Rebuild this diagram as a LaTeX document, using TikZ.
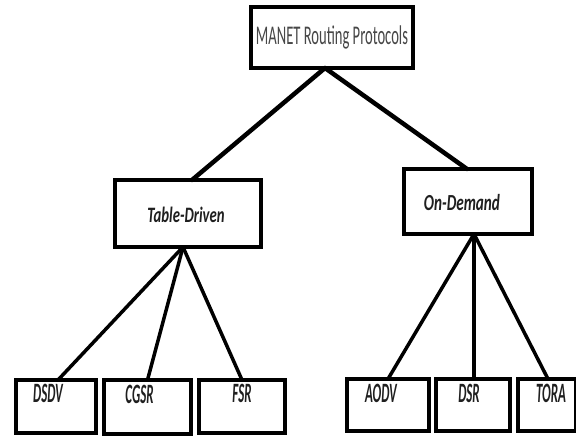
\documentclass[tikz,border=0pt]{standalone}
\usepackage{fontspec}
\setmainfont{Carlito}
\usepackage{graphicx}
% horizontally condensed label text: \sq{x-scale}{font size}{text}
\newcommand{\sq}[3]{\scalebox{#1}[1]{\fontsize{#2}{#2}\selectfont #3}}
\begin{document}
\begin{tikzpicture}[x=1pt,y=-1pt,
  box/.style={draw=black,line width=4pt,rectangle,inner sep=0pt,outer sep=0pt,fill=white},
  link/.style={line width=3.5pt,line cap=round},
  heavylink/.style={line width=4.5pt,line cap=round},
  lbl/.style={inner sep=0pt,font=\bfseries\itshape,text=black!88}]
\useasboundingbox[fill=white] (0,0) rectangle (576,438);

% boxes
\node[box,minimum width=162pt,minimum height=61pt] (root) at (332,37.5) {};
\node[box,minimum width=146pt,minimum height=67pt] (td) at (188,213.5) {};
\node[box,minimum width=128pt,minimum height=65pt] (od) at (468,201.5) {};
\node[box,minimum width=80pt,minimum height=53pt] (dsdv) at (56,406.5) {};
\node[box,minimum width=87pt,minimum height=54pt] (cgsr) at (147.5,407) {};
\node[box,minimum width=86pt,minimum height=53pt] (fsr) at (242,406.5) {};
\node[box,minimum width=82pt,minimum height=52pt] (aodv) at (388,405) {};
\node[box,minimum width=74pt,minimum height=52pt] (dsr) at (473,405) {};
\node[box,minimum width=58pt,minimum height=52pt] (tora) at (547,405) {};

% labels
\node[inner sep=0pt,text=black!72] at (root.center) {\sq{0.54}{27}{MANET Routing Protocols}};
\node[lbl] at ([xshift=-2pt,yshift=-1pt]td.center) {\sq{0.67}{22}{Table-Driven}};
\node[lbl] at ([xshift=-6pt,yshift=-1pt]od.center) {\sq{0.66}{23}{On-Demand}};
\node[lbl] at ([xshift=-8pt,yshift=13pt]dsdv.center) {\sq{0.46}{28}{DSDV}};
\node[lbl] at ([xshift=-8pt,yshift=13pt]cgsr.center) {\sq{0.46}{28}{CGSR}};
\node[lbl] at ([xshift=0pt,yshift=13pt]fsr.center) {\sq{0.46}{28}{FSR}};
\node[lbl] at ([xshift=-7pt,yshift=12pt]aodv.center) {\sq{0.46}{28}{AODV}};
\node[lbl] at ([xshift=-4pt,yshift=12pt]dsr.center) {\sq{0.46}{28}{DSR}};
\node[lbl] at ([xshift=4pt,yshift=12pt]tora.center) {\sq{0.46}{28}{TORA}};

% connectors
\draw[heavylink] ([xshift=-7pt]root.south) -- ([xshift=4pt]td.north);
\draw[heavylink] ([xshift=-7pt]root.south) -- ([xshift=-1pt]od.north);
\draw[link] ([xshift=-5pt]td.south) -- ([xshift=2pt]dsdv.north);
\draw[link] ([xshift=-5pt]td.south) -- (cgsr.north);
\draw[link] ([xshift=-5pt]td.south) -- (fsr.north);
\draw[link] ([xshift=6pt]od.south) -- (aodv.north);
\draw[link] ([xshift=6pt]od.south) -- ([xshift=1pt]dsr.north);
\draw[link] ([xshift=6pt]od.south) -- ([xshift=1pt]tora.north);
\end{tikzpicture}
\end{document}
